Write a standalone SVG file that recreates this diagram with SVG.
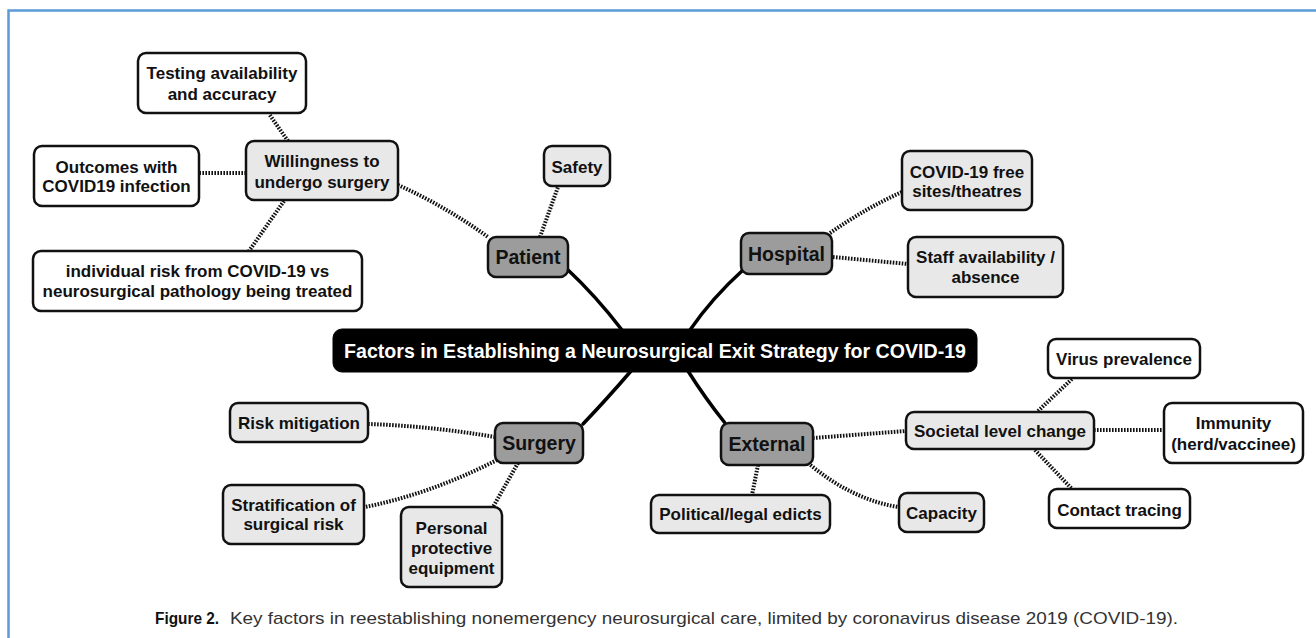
<svg xmlns="http://www.w3.org/2000/svg" width="1316" height="638" viewBox="0 0 1316 638">
<style>
  .box { stroke: #111; stroke-width: 2.5; }
  .white { fill: #ffffff; }
  .light { fill: #e8e8e8; }
  .hub { fill: #9c9c9c; }
  .center { fill: #000000; stroke: #000; stroke-width: 1; }
  .t { font-family: "Liberation Sans", Arial, sans-serif; font-weight: bold; font-size: 17px; fill: #111; text-anchor: middle; }
  .th { font-family: "Liberation Sans", Arial, sans-serif; font-weight: bold; font-size: 19.5px; fill: #111; text-anchor: middle; }
  .title { font-family: "Liberation Sans", Arial, sans-serif; font-weight: bold; font-size: 19.5px; fill: #fff; text-anchor: middle; }
  .dot { fill: none; stroke: #111; stroke-width: 4; stroke-dasharray: 1.6 1.4; }
  .solid { fill: none; stroke: #000; stroke-width: 3.5; stroke-linecap: round; }
  .cap { font-family: "Liberation Sans", Arial, sans-serif; font-size: 17px; fill: #333; }
  .capb { font-family: "Liberation Sans", Arial, sans-serif; font-size: 17px; font-weight: bold; fill: #111; }
</style>
<rect x="0" y="0" width="1316" height="638" fill="#ffffff"/>
<path d="M8.5,640 L8.5,10.5 L1320,10.5" fill="none" stroke="#5b9bd5" stroke-width="2.5"/>

<g id="connectors">
  <path class="solid" d="M566,268 Q596,296 622,330"/>
  <path class="solid" d="M743,270 Q712,298 690,330"/>
  <path class="solid" d="M583,424 Q606,400 631,371"/>
  <path class="solid" d="M725,423 Q705,398 688,371"/>
  <path class="dot" d="M288,141 L269,114"/>
  <path class="dot" d="M246,173 L200,173"/>
  <path class="dot" d="M284,201 L249,251"/>
  <path class="dot" d="M398,185 Q445,206 488,237"/>
  <path class="dot" d="M540,237 L558,187"/>
  <path class="dot" d="M830,233 Q866,208 902,192"/>
  <path class="dot" d="M833,257 L908,264"/>
  <path class="dot" d="M495,437 Q430,426 368,424"/>
  <path class="dot" d="M497,460 Q430,494 365,507"/>
  <path class="dot" d="M518,463 L493,507"/>
  <path class="dot" d="M758,465 L752,495"/>
  <path class="dot" d="M808,463 Q852,500 899,507"/>
  <path class="dot" d="M813,438 L906,431"/>
  <path class="dot" d="M1038,411 L1073,378"/>
  <path class="dot" d="M1094,430 L1164,430"/>
  <path class="dot" d="M1035,450 L1072,489"/>
</g>

<g id="center">
  <rect class="center" x="333" y="329" width="644" height="43" rx="9"/>
  <text class="title" x="655" y="357.5" textLength="622" lengthAdjust="spacingAndGlyphs">Factors in Establishing a Neurosurgical Exit Strategy for COVID-19</text>
</g>

<g id="patient">
  <rect class="box hub" x="488" y="237" width="80" height="40" rx="8"/>
  <text class="th" x="528" y="264">Patient</text>
</g>
<g id="hospital">
  <rect class="box hub" x="741" y="233" width="91" height="41" rx="8"/>
  <text class="th" x="786.5" y="261">Hospital</text>
</g>
<g id="surgery">
  <rect class="box hub" x="495" y="423" width="88" height="40" rx="8"/>
  <text class="th" x="539" y="450">Surgery</text>
</g>
<g id="external">
  <rect class="box hub" x="721" y="423" width="92" height="42" rx="8"/>
  <text class="th" x="767" y="451">External</text>
</g>

<g id="testing">
  <rect class="box white" x="138" y="53" width="168" height="60" rx="8"/>
  <text class="t" x="222" y="79">Testing availability</text>
  <text class="t" x="222" y="100">and accuracy</text>
</g>
<g id="willingness">
  <rect class="box light" x="246" y="141" width="152" height="59" rx="8"/>
  <text class="t" x="322" y="167">Willingness to</text>
  <text class="t" x="322" y="188">undergo surgery</text>
</g>
<g id="outcomes">
  <rect class="box white" x="34" y="146" width="165" height="60" rx="8"/>
  <text class="t" x="116.5" y="173">Outcomes with</text>
  <text class="t" x="116.5" y="192">COVID19 infection</text>
</g>
<g id="individual">
  <rect class="box white" x="33" y="251" width="329" height="60" rx="8"/>
  <text class="t" x="197.5" y="277">individual risk from COVID-19 vs</text>
  <text class="t" x="197.5" y="297">neurosurgical pathology being treated</text>
</g>
<g id="safety">
  <rect class="box light" x="544" y="146" width="66" height="40" rx="8"/>
  <text class="t" x="577" y="173">Safety</text>
</g>
<g id="covidfree">
  <rect class="box light" x="902" y="151" width="130" height="59" rx="8"/>
  <text class="t" x="967" y="178">COVID-19 free</text>
  <text class="t" x="967" y="197">sites/theatres</text>
</g>
<g id="staff">
  <rect class="box light" x="908" y="237" width="155" height="60" rx="8"/>
  <text class="t" x="985.5" y="263">Staff availability /</text>
  <text class="t" x="985.5" y="283">absence</text>
</g>
<g id="riskmitigation">
  <rect class="box light" x="230" y="403" width="138" height="39" rx="8"/>
  <text class="t" x="299" y="429">Risk mitigation</text>
</g>
<g id="stratification">
  <rect class="box light" x="223" y="485" width="141" height="59" rx="8"/>
  <text class="t" x="293.5" y="511">Stratification of</text>
  <text class="t" x="293.5" y="530">surgical risk</text>
</g>
<g id="ppe">
  <rect class="box light" x="401" y="507" width="101" height="80" rx="8"/>
  <text class="t" x="451.5" y="534">Personal</text>
  <text class="t" x="451.5" y="554">protective</text>
  <text class="t" x="451.5" y="574">equipment</text>
</g>
<g id="political">
  <rect class="box light" x="651" y="495" width="179" height="38" rx="8"/>
  <text class="t" x="740.5" y="520">Political/legal edicts</text>
</g>
<g id="capacity">
  <rect class="box light" x="899" y="493" width="85" height="39" rx="8"/>
  <text class="t" x="941.5" y="519">Capacity</text>
</g>
<g id="societal">
  <rect class="box light" x="906" y="412" width="188" height="37" rx="8"/>
  <text class="t" x="1000" y="437">Societal level change</text>
</g>
<g id="virus">
  <rect class="box white" x="1048" y="339" width="152" height="39" rx="8"/>
  <text class="t" x="1124" y="365">Virus prevalence</text>
</g>
<g id="immunity">
  <rect class="box white" x="1164" y="403" width="139" height="60" rx="8"/>
  <text class="t" x="1233.5" y="429">Immunity</text>
  <text class="t" x="1233.5" y="450">(herd/vaccinee)</text>
</g>
<g id="contact">
  <rect class="box white" x="1049" y="489" width="141" height="39" rx="8"/>
  <text class="t" x="1119.5" y="516">Contact tracing</text>
</g>

<g id="caption">
  <text class="capb" x="155" y="624" textLength="64" lengthAdjust="spacingAndGlyphs">Figure 2.</text>
  <text class="cap" x="230" y="624" textLength="948" lengthAdjust="spacingAndGlyphs">Key factors in reestablishing nonemergency neurosurgical care, limited by coronavirus disease 2019 (COVID-19).</text>
</g>
</svg>
